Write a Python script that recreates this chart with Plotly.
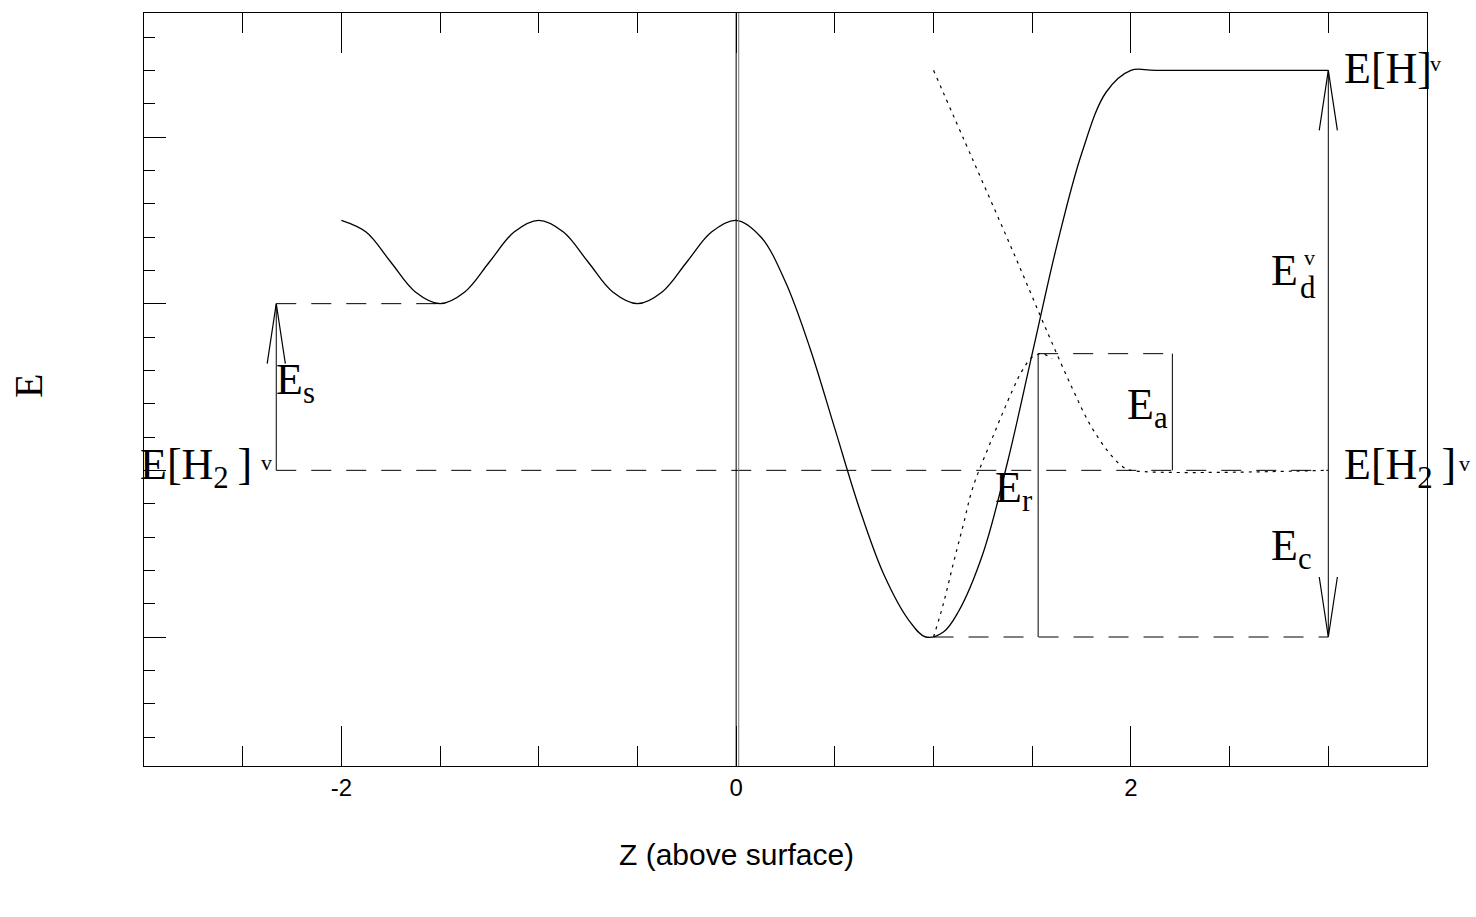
import plotly.graph_objects as go

# ---- potential energy curve along Z (solid) ----
z_solid = [-2.0, -1.875, -1.75, -1.625, -1.5, -1.375, -1.25, -1.125, -1.0,
           -0.875, -0.75, -0.625, -0.5, -0.375, -0.25, -0.125, 0.0,
           0.125, 0.25, 0.375, 0.5, 0.625, 0.75, 0.875, 0.96,
           1.05, 1.125, 1.25, 1.375, 1.5, 1.625, 1.75, 1.875, 2.0, 2.125, 3.0]
e_solid = [1.50, 1.43, 1.25, 1.07, 1.00, 1.07, 1.25, 1.43, 1.50,
           1.43, 1.25, 1.07, 1.00, 1.07, 1.25, 1.43, 1.50,
           1.40, 1.13, 0.73, 0.25, -0.23, -0.63, -0.90, -1.00,
           -0.97, -0.85, -0.50, 0.05, 0.70, 1.35, 1.90, 2.27, 2.40, 2.40, 2.40]

# ---- dotted curves: rising branch from the well, falling branch to E[H2] ----
z_dot_rise = [1.0, 1.05, 1.1, 1.15, 1.2, 1.3, 1.4, 1.45, 1.5, 1.55, 1.6]
e_dot_rise = [-1.0, -0.80, -0.56, -0.33, -0.10, 0.20, 0.48, 0.60, 0.68, 0.70, 0.67]
z_dot_fall = [1.0, 1.2, 1.4, 1.58, 1.7, 1.8, 1.9, 1.96, 2.0, 3.0]
e_dot_fall = [2.40, 1.86, 1.32, 0.82, 0.50, 0.26, 0.09, 0.02, 0.0, 0.0]

# ---- energy levels and positions of the marked quantities ----
E_H2 = 0.0        # E[H2]^v
E_H = 2.4         # E[H]^v
E_SURF = 1.0      # ripple minimum (E_s level)
E_ACT = 0.7       # barrier top (E_a / E_r level)
E_WELL = -1.0     # chemisorption well (E_c level)
Z_ES = -2.33
Z_RIPPLE_MIN = -1.5
Z_WELL = 1.0
Z_ER = 1.53
Z_EA = 2.21
Z_RIGHT = 3.0

X_RANGE = [-3.0, 3.5]
Y_RANGE = [-1.774, 2.744]
x_ticks = [-2, 0, 2]

ARROW_HALF_W = 0.046
ARROW_LEN = 0.36

SERIF = "Liberation Serif"
SANS = "Liberation Sans"
THIN = "\u2009"

fig = go.Figure()


def line(x, y, dash=None, width=1.0, shape="linear"):
    fig.add_trace(go.Scatter(
        x=x, y=y, mode="lines", hoverinfo="skip", showlegend=False,
        line=dict(color="black", width=width, dash=dash, shape=shape,
                  smoothing=1.0 if shape == "spline" else None)))


def arrow_head(z, e, direction):
    # open V head with the tip at (z, e); direction +1 points up, -1 down
    base = e - direction * ARROW_LEN
    line([z - ARROW_HALF_W, z, z + ARROW_HALF_W], [base, e, base], width=1.2)


DASH = "20px,15px"
DOT = "3px,5px"

# dashed reference levels
line([Z_ES, Z_RIGHT], [E_H2, E_H2], dash=DASH)
line([Z_ES, Z_RIPPLE_MIN], [E_SURF, E_SURF], dash=DASH)
line([Z_ER, Z_EA], [E_ACT, E_ACT], dash=DASH)
line([Z_WELL, Z_RIGHT], [E_WELL, E_WELL], dash=DASH)

# vertical markers
line([Z_ES, Z_ES], [E_H2, E_SURF])
line([Z_ER, Z_ER], [E_WELL, E_ACT])
line([Z_EA, Z_EA], [E_H2, E_ACT])
line([Z_RIGHT, Z_RIGHT], [E_WELL, E_H])

# arrow heads
arrow_head(Z_ES, E_SURF, +1)
arrow_head(Z_RIGHT, E_H, +1)
arrow_head(Z_RIGHT, E_WELL, -1)

# dotted curves
line(z_dot_rise, e_dot_rise, dash=DOT, width=1.2, shape="spline")
line(z_dot_fall, e_dot_fall, dash=DOT, width=1.2, shape="spline")

# main potential curve
line(z_solid, e_solid, width=1.3, shape="spline")

# surface plane at Z = 0 (double line)
for zx, col in [(0.0, "black"), (0.013, "#777777")]:
    fig.add_shape(type="line", xref="x", yref="y domain", x0=zx, x1=zx, y0=0, y1=1,
                  line=dict(color=col, width=1))


def label(x, y, text, size=44, xanchor="left", yanchor="middle", angle=0, xref="x"):
    fig.add_annotation(x=x, y=y, xref=xref, yref="y", text=text, showarrow=False,
                       font=dict(family=SERIF, size=size, color="black"),
                       xanchor=xanchor, yanchor=yanchor, textangle=angle)


# level labels (those reaching past the frame use paper x)
h2_text = "E[H<sub>2</sub>" + THIN + "]"
label(3.07, 2.41, "E[H]")
label(1.007, 2.44, "v", size=22, xanchor="center", xref="paper")
label(3.07, 0.02, h2_text)
label(1.029, 0.04, "v", size=22, xanchor="center", xref="paper")
label(-0.0047, 0.02, h2_text, xref="paper")
label(-2.381, 0.045, "v", size=22, xanchor="center")

# quantity labels
label(-2.34, 0.53, "E<sub>s</sub>")
label(1.97, 0.38, "E<sub>a</sub>")
label(1.30, -0.12, "E<sub>r</sub>")
label(2.70, 1.2, "E")
label(2.898, 1.10, "d", size=31, xanchor="center")
label(2.903, 1.28, "v", size=22, xanchor="center")
label(2.70, -0.47, "E<sub>c</sub>")

# axis titles
label(-0.0904, 0.506, "E", size=40, xanchor="center", angle=-90, xref="paper")
fig.add_annotation(x=0.0, y=-0.118, xref="x", yref="paper", text="Z (above surface)",
                   showarrow=False, font=dict(family=SANS, size=30, color="black"),
                   xanchor="center", yanchor="middle")

fig.update_xaxes(range=X_RANGE, tickmode="array", tickvals=x_ticks,
                 ticktext=[str(v) for v in x_ticks],
                 ticks="inside", ticklen=40, tickwidth=1, tickcolor="black",
                 showline=True, linecolor="black", linewidth=1, mirror="ticks",
                 showgrid=False, zeroline=False,
                 tickfont=dict(family=SANS, size=24, color="black"),
                 minor=dict(tickmode="linear", tick0=0, dtick=0.5, ticks="inside",
                            ticklen=20, tickwidth=1, tickcolor="black", showgrid=False))
fig.update_yaxes(range=Y_RANGE, tickmode="linear", tick0=0, dtick=1,
                 ticks="inside", ticklen=22, tickwidth=1, tickcolor="black",
                 showticklabels=False,
                 showline=True, linecolor="black", linewidth=1, mirror=True,
                 showgrid=False, zeroline=False,
                 minor=dict(tickmode="linear", tick0=0, dtick=0.2, ticks="inside",
                            ticklen=11, tickwidth=1, tickcolor="black", showgrid=False))

fig.update_layout(width=1476, height=917,
                  margin=dict(l=144, r=49, t=13, b=151),
                  paper_bgcolor="white", plot_bgcolor="white",
                  showlegend=False)

fig.write_html("out.html")
